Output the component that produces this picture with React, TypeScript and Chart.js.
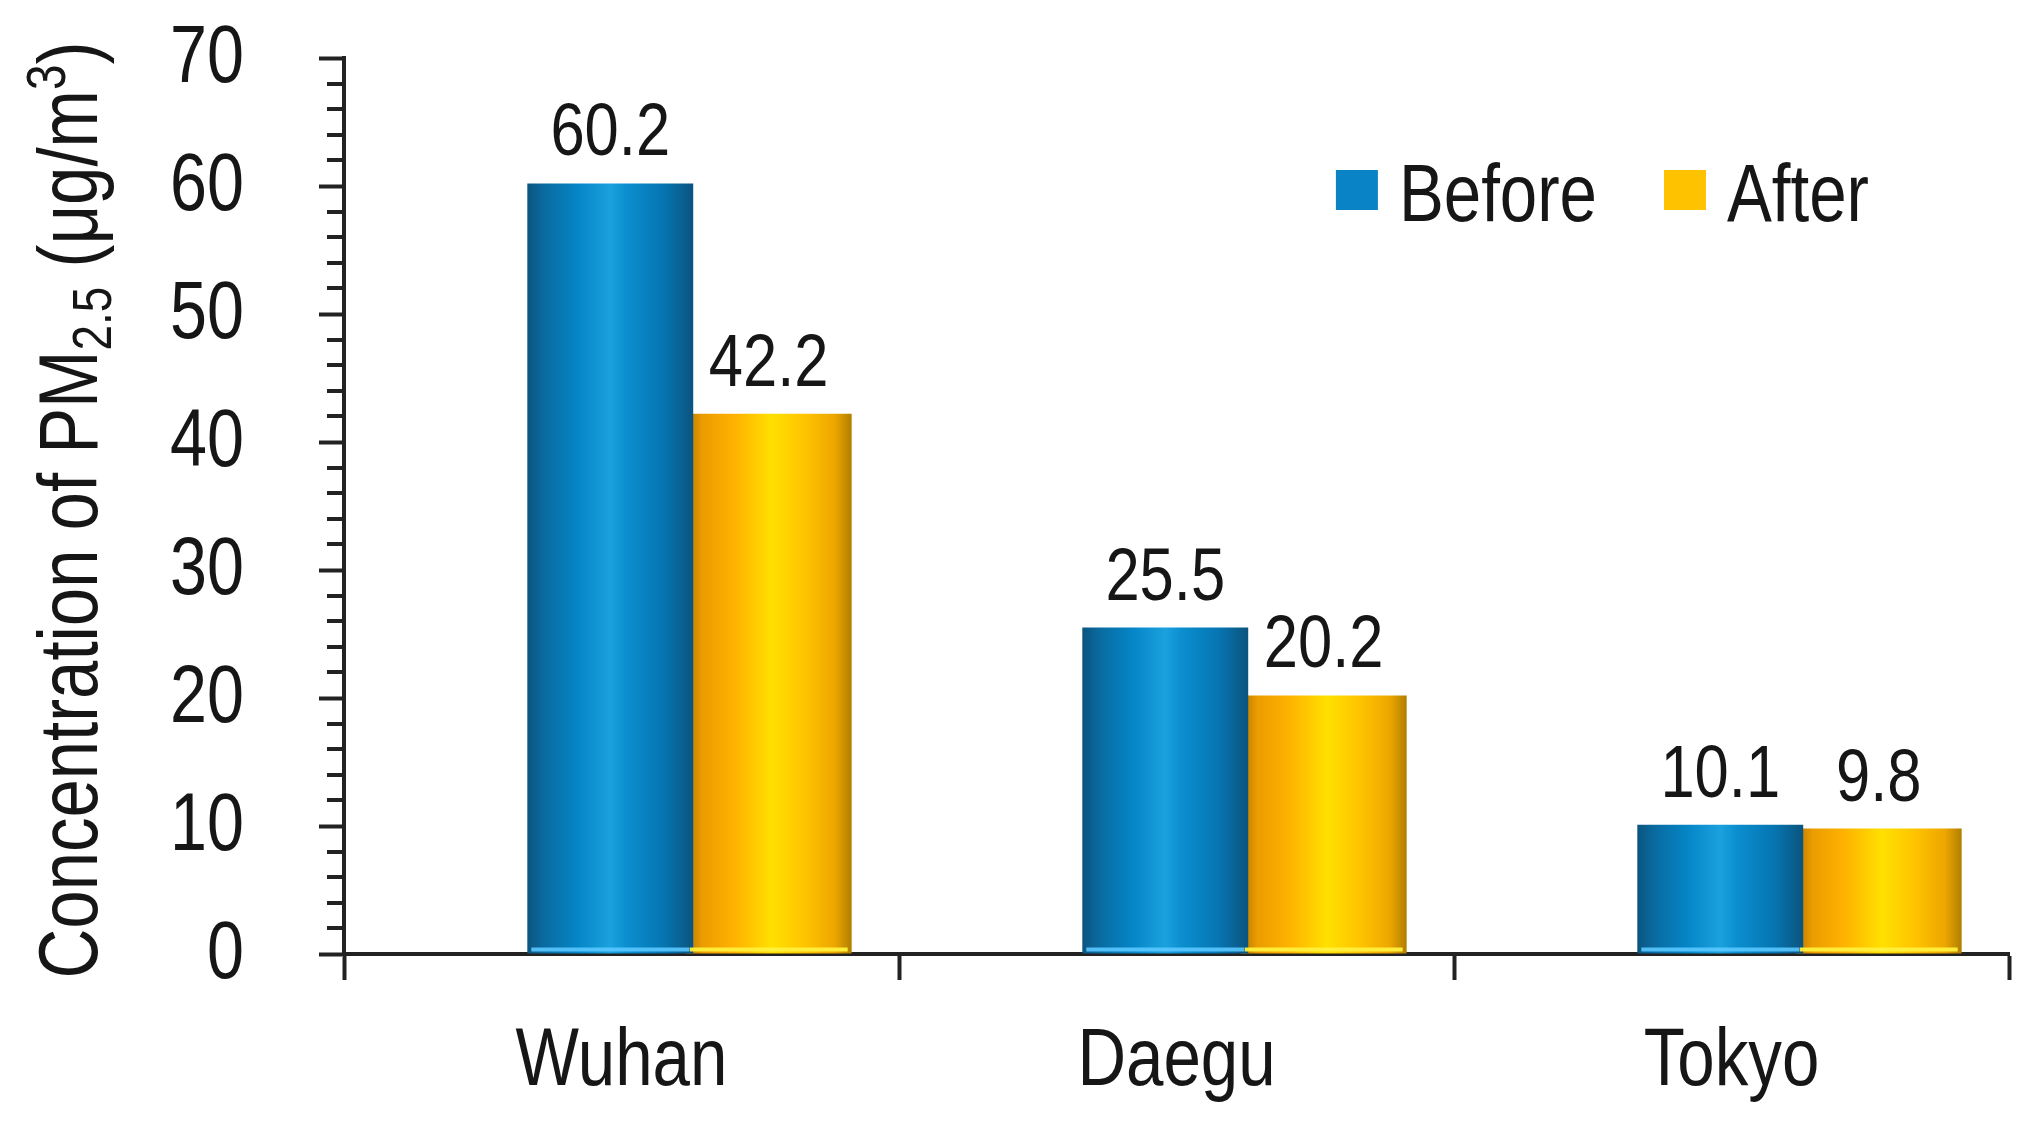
import React, { useEffect, useRef } from 'react';
import { Chart, registerables } from 'chart.js';

Chart.register(...registerables);

// ---------- data ----------
const CITIES = ['Wuhan', 'Daegu', 'Tokyo'];
const BEFORE = [60.2, 25.5, 10.1];
const AFTER = [42.2, 20.2, 9.8];
const SERIES_NAMES = ['Before', 'After'];
const Y_MIN = 0;
const Y_MAX = 70;
const Y_STEP = 10;
const Y_MINOR_STEP = 2;
const TITLE_PARTS: { text: string; kind: 'normal' | 'sub' | 'sup' }[] = [
  { text: 'Concentration of PM', kind: 'normal' },
  { text: '2.5', kind: 'sub' },
  { text: ' (μg/m', kind: 'normal' },
  { text: '3', kind: 'sup' },
  { text: ')', kind: 'normal' },
];

// ---------- styles ----------
const FONT = "'Liberation Sans', Arial, Helvetica, sans-serif";
const CONDENSE = 0.82; // Arial-Narrow-like width
const TEXT = '#161616';
const AXIS = '#222222';
const LEGEND_COLORS = ['#0a83c6', '#ffc200'];
const STOPS: [number, string][][] = [
  [
    [0, '#0b547f'],
    [0.1, '#0a6a9f'],
    [0.3, '#0585c6'],
    [0.5, '#1ba1de'],
    [0.6, '#0b8ecf'],
    [0.82, '#0675b2'],
    [0.95, '#0a5d8c'],
    [1, '#0b5380'],
  ],
  [
    [0, '#b07600'],
    [0.1, '#eb9c00'],
    [0.3, '#ffb300'],
    [0.52, '#ffe000'],
    [0.72, '#ffc300'],
    [0.9, '#eda600'],
    [1, '#b07e00'],
  ],
];
const HIGHLIGHT = ['rgba(90,200,255,0.9)', 'rgba(255,240,60,0.95)'];
const GROUP_SHIFT = 0.1225; // bars sit slightly right of the category centre

function condensedText(
  ctx: CanvasRenderingContext2D,
  text: string,
  x: number,
  y: number,
  size: number,
  align: CanvasTextAlign,
  baseline: CanvasTextBaseline
) {
  ctx.save();
  ctx.translate(x, y);
  ctx.scale(CONDENSE, 1);
  ctx.font = `${size}px ${FONT}`;
  ctx.textAlign = align;
  ctx.textBaseline = baseline;
  ctx.fillStyle = TEXT;
  ctx.fillText(text, 0, 0);
  ctx.restore();
}

const cylinderPlugin = {
  id: 'cylinderFill',
  beforeDatasetsDraw(chart: any) {
    const ctx = chart.ctx;
    chart.data.datasets.forEach((_ds: any, di: number) => {
      const meta = chart.getDatasetMeta(di);
      meta.data.forEach((el: any) => {
        const { x, width } = el.getProps(['x', 'width'], true);
        const g = ctx.createLinearGradient(x - width / 2, 0, x + width / 2, 0);
        STOPS[di].forEach(([o, c]) => g.addColorStop(o, c));
        el.options = { ...el.options, backgroundColor: g };
      });
    });
  },
  afterDatasetsDraw(chart: any) {
    const ctx = chart.ctx;
    chart.data.datasets.forEach((ds: any, di: number) => {
      const meta = chart.getDatasetMeta(di);
      meta.data.forEach((el: any, i: number) => {
        const { x, y, base, width } = el.getProps(['x', 'y', 'base', 'width'], true);
        ctx.save();
        ctx.fillStyle = HIGHLIGHT[di];
        ctx.fillRect(x - width / 2 + 4, base - 6, width - 8, 4);
        ctx.restore();
        condensedText(ctx, ds.values[i].toFixed(1), x, y - 28, 75, 'center', 'alphabetic');
      });
    });
  },
};

const axisLabelsPlugin = {
  id: 'axisLabels',
  afterDraw(chart: any) {
    const ctx = chart.ctx;
    const ys = chart.scales.y;
    const xs = chart.scales.x;
    // minor ticks
    ctx.save();
    ctx.strokeStyle = AXIS;
    ctx.lineWidth = 4;
    for (let v = Y_MIN; v <= Y_MAX; v += Y_MINOR_STEP) {
      if (v % Y_STEP === 0) continue;
      const py = Math.round(ys.getPixelForValue(v));
      ctx.beginPath();
      ctx.moveTo(ys.right - 17, py);
      ctx.lineTo(ys.right, py);
      ctx.stroke();
    }
    ctx.restore();
    // y tick labels
    ys.ticks.forEach((t: any, i: number) => {
      condensedText(ctx, String(t.label), ys.right - 100, ys.getPixelForTick(i) + 2, 81, 'right', 'middle');
    });
    // x tick labels
    xs.ticks.forEach((t: any, i: number) => {
      condensedText(ctx, String(xs.getLabelForValue(t.value)), xs.getPixelForTick(i), xs.top + 131, 82, 'center', 'alphabetic');
    });
  },
};

const titlePlugin = {
  id: 'axisTitleRich',
  afterDraw(chart: any) {
    const ctx = chart.ctx;
    const area = chart.chartArea;
    const main = 84;
    const small = 56;
    ctx.save();
    ctx.fillStyle = TEXT;
    ctx.textBaseline = 'alphabetic';
    ctx.textAlign = 'left';
    const widths = TITLE_PARTS.map((p) => {
      ctx.font = `${p.kind === 'normal' ? main : small}px ${FONT}`;
      return ctx.measureText(p.text).width * CONDENSE;
    });
    const total = widths.reduce((a, b) => a + b, 0);
    ctx.translate(97, (area.top + area.bottom) / 2 + 4);
    ctx.rotate(-Math.PI / 2);
    let cx = -total / 2;
    TITLE_PARTS.forEach((p, i) => {
      const dy = p.kind === 'sub' ? 14 : p.kind === 'sup' ? -32 : 0;
      ctx.save();
      ctx.translate(cx, dy);
      ctx.scale(CONDENSE, 1);
      ctx.font = `${p.kind === 'normal' ? main : small}px ${FONT}`;
      ctx.fillText(p.text, 0, 0);
      ctx.restore();
      cx += widths[i];
    });
    ctx.restore();
  },
};

const legendPlugin = {
  id: 'insideLegend',
  afterDraw(chart: any) {
    const ctx = chart.ctx;
    const area = chart.chartArea;
    const box = 42;
    const gapBoxText = 21;
    const gapItems = 67;
    const size = 82;
    ctx.save();
    ctx.font = `${size}px ${FONT}`;
    const widths = SERIES_NAMES.map((n) => ctx.measureText(n).width * CONDENSE);
    ctx.restore();
    const total = widths.reduce((a, w) => a + box + gapBoxText + w, 0) + gapItems * (SERIES_NAMES.length - 1);
    let x = area.right - 140 - total;
    const baseline = area.top + 163;
    SERIES_NAMES.forEach((n, i) => {
      ctx.save();
      ctx.fillStyle = LEGEND_COLORS[i];
      ctx.fillRect(x, baseline - 51, box, box - 2);
      ctx.restore();
      x += box + gapBoxText;
      condensedText(ctx, n, x, baseline, size, 'left', 'alphabetic');
      x += widths[i] + gapItems;
    });
  },
};

export default function App() {
  const ref = useRef<HTMLCanvasElement | null>(null);

  useEffect(() => {
    if (!ref.current) return;
    const chart = new Chart(ref.current, {
      type: 'bar',
      data: {
        labels: CITIES,
        datasets: [
          {
            label: SERIES_NAMES[0],
            data: CITIES.map((_, i) => ({ x: i, y: BEFORE[i] })),
            values: BEFORE,
            xAxisID: 'xb',
            yAxisID: 'y',
            backgroundColor: LEGEND_COLORS[0],
            borderWidth: 0,
            barPercentage: 1.047,
            categoryPercentage: 0.571,
          } as any,
          {
            label: SERIES_NAMES[1],
            data: CITIES.map((_, i) => ({ x: i, y: AFTER[i] })),
            values: AFTER,
            xAxisID: 'xb',
            yAxisID: 'y',
            backgroundColor: LEGEND_COLORS[1],
            borderWidth: 0,
            barPercentage: 1.047,
            categoryPercentage: 0.571,
          } as any,
        ],
      },
      options: {
        animation: false,
        responsive: true,
        maintainAspectRatio: false,
        devicePixelRatio: 1,
        layout: { padding: { left: 120, top: 58, right: 26, bottom: 0 } },
        plugins: {
          legend: { display: false },
          tooltip: { enabled: false },
          title: { display: false },
        },
        scales: {
          x: {
            type: 'category',
            position: 'bottom',
            offset: true,
            grid: {
              offset: true,
              drawOnChartArea: false,
              drawTicks: true,
              tickLength: 26,
              tickWidth: 4,
              tickColor: AXIS,
            },
            border: { display: true, color: AXIS, width: 4 },
            ticks: { display: false, autoSkip: false },
            afterFit: (s: any) => {
              s.height = 176;
              s.paddingLeft = 0;
              s.paddingRight = 0;
            },
          },
          xb: {
            type: 'linear',
            display: false,
            offset: false,
            min: -0.5 - GROUP_SHIFT,
            max: CITIES.length - 0.5 - GROUP_SHIFT,
            afterBuildTicks: (s: any) => {
              s.ticks = CITIES.map((_, i) => ({ value: i }));
            },
          },
          y: {
            type: 'linear',
            position: 'left',
            min: Y_MIN,
            max: Y_MAX,
            grid: {
              drawOnChartArea: false,
              drawTicks: true,
              tickLength: 25,
              tickWidth: 4,
              tickColor: AXIS,
            },
            border: { display: true, color: AXIS, width: 4 },
            ticks: { display: false, stepSize: Y_STEP },
            afterFit: (s: any) => {
              s.width = 224;
              s.paddingTop = 0;
              s.paddingBottom = 0;
            },
          },
        },
      } as any,
      plugins: [cylinderPlugin, axisLabelsPlugin, titlePlugin, legendPlugin],
    });
    return () => chart.destroy();
  }, []);

  return (
    <div
      style={{
        position: 'fixed',
        left: 0,
        top: 0,
        width: '2035px',
        height: '1130px',
        background: '#ffffff',
      }}
    >
      <canvas ref={ref} />
    </div>
  );
}
